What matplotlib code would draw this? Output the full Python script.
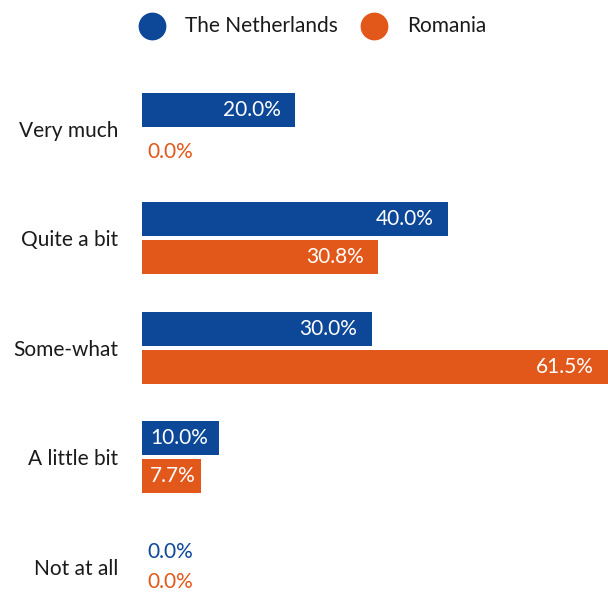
import matplotlib
matplotlib.use("Agg")
import matplotlib.pyplot as plt
from matplotlib.lines import Line2D

plt.rcParams['font.family'] = ['Lato', 'DejaVu Sans']

categories = ["Very much", "Quite a bit", "Some-what", "A little bit", "Not at all"]
series_names = ["The Netherlands", "Romania"]
netherlands = [20.0, 40.0, 30.0, 10.0, 0.0]
romania = [0.0, 30.8, 61.5, 7.7, 0.0]
colors = ["#0c4798", "#e2571a"]

W, H = 608, 592
dpi = 100
fig = plt.figure(figsize=(W / dpi, H / dpi), dpi=dpi)

left_px, right_px = 142, 608
top_px, band_px = 74, 109.5
n = len(categories)
bottom_px = top_px + band_px * n
ax = fig.add_axes([left_px / W, 1 - bottom_px / H, (right_px - left_px) / W, band_px * n / H])
ax.set_ylim(n - 0.5, -0.5)
px_per_unit = 7.65
xmax = (right_px - left_px) / px_per_unit
ax.set_xlim(0, xmax)
for s in ax.spines.values():
    s.set_visible(False)
ax.set_xticks([])
ax.set_yticks(range(n))
ax.set_yticklabels(categories, fontsize=15, color="#1a1a1a")
ax.tick_params(axis='y', length=0, pad=17)

bar_h = 34 / band_px
offset = 19 / band_px
fs = 15
for si, (vals, col) in enumerate(zip([netherlands, romania], colors)):
    ys = [i + (-offset if si == 0 else offset) for i in range(n)]
    ax.barh(ys, vals, height=bar_h, color=col, clip_on=True)
    for y, v in zip(ys, vals):
        w_px = v * px_per_unit
        txt = f"{v:.1f}%"
        if v == 0:
            ypx = top_px + (y + 0.5) * band_px + 4
            shift = -4
            if ypx > H - 10:
                shift += ypx - (H - 10)
            ax.annotate(txt, xy=(0, y), xytext=(5, shift), textcoords='offset pixels',
                        ha='left', va='center', color=col, fontsize=fs)
        elif w_px < 90:
            ax.annotate(txt, xy=(0, y), xytext=(8, 0), textcoords='offset pixels',
                        ha='left', va='center', color='white', fontsize=fs)
        else:
            ax.annotate(txt, xy=(min(v, xmax), y), xytext=(-14, 0), textcoords='offset pixels',
                        ha='right', va='center', color='white', fontsize=fs)

# legend
leg_y = 1 - 26 / H
for xc, name, col in zip([152, 374], series_names, colors):
    fig.add_artist(Line2D([xc / W], [leg_y], marker='o', markersize=19, linestyle='none',
                          markerfacecolor=col, markeredgecolor=col, transform=fig.transFigure))
    fig.text((xc + 33) / W, leg_y, name, ha='left', va='center', fontsize=15, color="#1a1a1a")

fig.savefig("out.png", dpi=dpi)
